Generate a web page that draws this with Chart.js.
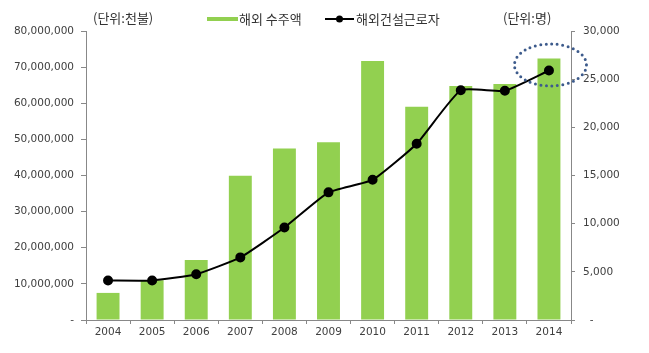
<!DOCTYPE html>
<html>
<head>
<meta charset="utf-8">
<script src="https://cdn.jsdelivr.net/npm/chart.js@4"></script>
<style>
    html, body { margin: 0; padding: 0; background: #fff; }
    #wrap { width: 649px; height: 353px; }
</style>
</head>
<body>
<div id="wrap"><canvas id="myChart" width="649" height="353"></canvas></div>
<script>
const years = ['2004', '2005', '2006', '2007', '2008', '2009', '2010', '2011', '2012', '2013', '2014'];
const orders = [7500000, 11000000, 16600000, 39900000, 47500000, 49200000, 71700000, 59000000, 64800000, 65300000, 72400000];
const workers = [4100, 4100, 4750, 6500, 9600, 13250, 14550, 18300, 23850, 23800, 25900];
const leftTicks = [0, 10000000, 20000000, 30000000, 40000000, 50000000, 60000000, 70000000, 80000000];
const rightTicks = [0, 5000, 10000, 15000, 20000, 25000, 30000];

const tickFont = { family: 'DejaVu Sans', size: 10.5 };
const korFont = "13px 'Noto Sans CJK KR', sans-serif";

function fmt(v) {
    if (v === 0) return '-';
    return v.toLocaleString('en-US');
}

// legend, unit labels and the dotted circle round the last point
const extras = {
    id: 'extras',
    afterDatasetsDraw(chart) {
        const c = chart.ctx;
        const pts = chart.getDatasetMeta(1).data;
        const last = pts[pts.length - 1];
        c.save();
        c.strokeStyle = '#3d5b8c';
        c.lineWidth = 3;
        c.lineCap = 'round';
        c.setLineDash([0, 5.5]);
        c.beginPath();
        c.ellipse(last.x + 1.5, last.y - 5.5, 36, 21, 0, 0, Math.PI * 2);
        c.stroke();
        c.restore();
    },
    afterDraw(chart) {
        const c = chart.ctx;
        c.save();
        c.font = korFont;
        c.textBaseline = 'middle';
        c.fillStyle = '#333';
        c.fillText('(단위:천불)', 93, 18);
        c.fillText('(단위:명)', 503, 18);

        c.fillStyle = '#92d050';
        c.fillRect(207, 17, 31, 4);
        c.fillStyle = '#333';
        c.fillText('해외 수주액', 239, 19);

        c.strokeStyle = '#000';
        c.lineWidth = 2;
        c.beginPath();
        c.moveTo(325, 19);
        c.lineTo(354, 19);
        c.stroke();
        c.fillStyle = '#000';
        c.beginPath();
        c.arc(339.5, 19, 3.5, 0, Math.PI * 2);
        c.fill();
        c.fillStyle = '#333';
        c.fillText('해외건설근로자', 356, 19);
        c.restore();
    }
};

const ctx = document.getElementById('myChart').getContext('2d');
const myChart = new Chart(ctx, {
    data: {
        labels: years,
        datasets: [{
            type: 'bar',
            label: '해외 수주액',
            data: orders,
            backgroundColor: '#92d050',
            categoryPercentage: 1,
            barPercentage: 0.52,
            yAxisID: 'y',
            order: 2
        }, {
            type: 'line',
            label: '해외건설근로자',
            data: workers,
            borderColor: '#000',
            backgroundColor: '#000',
            borderWidth: 2,
            pointRadius: 4,
            pointHoverRadius: 4,
            tension: 0.15,
            yAxisID: 'y1',
            order: 1
        }]
    },
    options: {
        responsive: false,
        animation: false,
        layout: { padding: { top: 31, left: 0, right: 0, bottom: 0 } },
        plugins: {
            legend: { display: false },
            tooltip: { enabled: false }
        },
        scales: {
            x: {
                grid: { offset: true, drawOnChartArea: false, color: '#888', tickLength: 4 },
                border: { color: '#888' },
                ticks: { color: '#404040', font: tickFont, padding: 2, maxRotation: 0 },
                afterFit(scale) { scale.height = 33; }
            },
            y: {
                position: 'left',
                min: 0,
                max: 80000000,
                afterBuildTicks(scale) { scale.ticks = leftTicks.map(v => ({ value: v })); },
                grid: { drawOnChartArea: false, color: '#888', tickLength: 5 },
                border: { color: '#888' },
                ticks: { color: '#404040', font: tickFont, padding: 7, callback: fmt },
                afterFit(scale) { scale.width = 86; }
            },
            y1: {
                position: 'right',
                min: 0,
                max: 30000,
                afterBuildTicks(scale) { scale.ticks = rightTicks.map(v => ({ value: v })); },
                grid: { drawOnChartArea: false, color: '#888', tickLength: 4 },
                border: { color: '#888' },
                ticks: { color: '#404040', font: tickFont, padding: 8, callback: v => v === 0 ? '  -' : fmt(v) },
                afterFit(scale) { scale.width = 78; }
            }
        }
    },
    plugins: [extras]
});
</script>
</body>
</html>
